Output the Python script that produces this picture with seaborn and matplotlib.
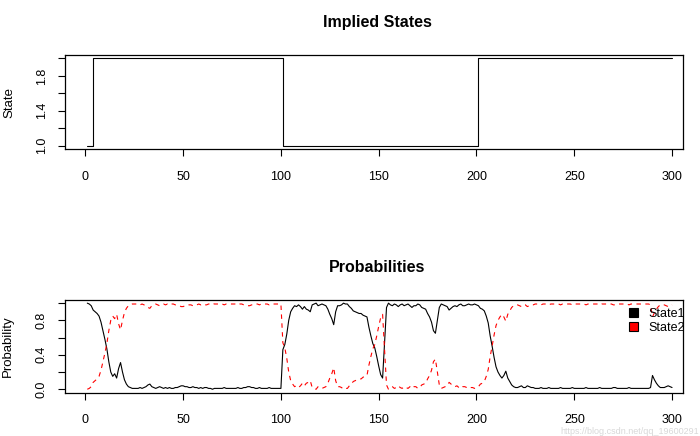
import numpy as np
import pandas as pd
import matplotlib
matplotlib.use("Agg")
import matplotlib.pyplot as plt
from matplotlib.patches import Patch
from matplotlib import font_manager
import seaborn as sns

# ---------------- data ----------------
time_index = list(range(1, 301))

# implied state as run lengths (value, count)
state_levels = [1, 2, 1, 2]
state_runs = [3, 97, 100, 100]

state1_prob = [
    1.00, 0.99, 0.97, 0.92, 0.90, 0.88, 0.85, 0.78, 0.68, 0.58, 0.47, 0.32, 0.20, 0.15, 0.18, 0.13, 0.24, 0.31, 0.20, 0.11, 0.06, 0.03, 0.02, 0.01, 0.01,
    0.01, 0.01, 0.02, 0.01, 0.02, 0.03, 0.05, 0.06, 0.03, 0.02, 0.01, 0.02, 0.03, 0.02, 0.01, 0.02, 0.01, 0.02, 0.01, 0.01, 0.02, 0.02, 0.03, 0.04, 0.04,
    0.03, 0.03, 0.02, 0.02, 0.03, 0.02, 0.02, 0.01, 0.02, 0.01, 0.02, 0.02, 0.01, 0.01, 0.00, 0.01, 0.01, 0.01, 0.01, 0.01, 0.02, 0.01, 0.01, 0.01, 0.01,
    0.01, 0.01, 0.02, 0.01, 0.01, 0.02, 0.02, 0.03, 0.03, 0.02, 0.02, 0.01, 0.01, 0.02, 0.01, 0.01, 0.01, 0.01, 0.02, 0.01, 0.01, 0.01, 0.01, 0.01, 0.01,
    0.46, 0.52, 0.64, 0.80, 0.90, 0.94, 0.97, 0.96, 0.98, 0.96, 0.93, 0.96, 0.93, 0.92, 0.90, 0.98, 0.99, 1.00, 0.97, 0.98, 0.99, 0.98, 0.97, 0.93, 0.87,
    0.82, 0.75, 0.90, 0.97, 0.97, 0.98, 1.00, 0.99, 0.99, 0.96, 0.94, 0.91, 0.90, 0.89, 0.88, 0.88, 0.86, 0.85, 0.84, 0.72, 0.62, 0.53, 0.48, 0.38, 0.27,
    0.17, 0.13, 0.55, 0.95, 1.00, 0.98, 0.97, 0.99, 0.98, 0.96, 0.98, 0.99, 0.97, 0.98, 0.99, 0.97, 0.95, 0.97, 0.97, 0.99, 0.98, 0.95, 0.94, 0.93, 0.88,
    0.84, 0.78, 0.68, 0.65, 0.80, 0.95, 0.99, 0.98, 0.97, 0.96, 0.92, 0.94, 0.96, 0.97, 0.96, 0.98, 0.99, 0.97, 0.97, 0.98, 0.99, 0.98, 0.98, 0.99, 0.98,
    0.97, 0.94, 0.93, 0.91, 0.85, 0.77, 0.62, 0.50, 0.37, 0.26, 0.20, 0.16, 0.13, 0.16, 0.21, 0.13, 0.09, 0.05, 0.03, 0.02, 0.02, 0.03, 0.04, 0.02, 0.02,
    0.04, 0.03, 0.02, 0.02, 0.01, 0.01, 0.01, 0.02, 0.01, 0.01, 0.01, 0.02, 0.01, 0.01, 0.01, 0.01, 0.01, 0.02, 0.01, 0.01, 0.01, 0.01, 0.01, 0.02, 0.01,
    0.01, 0.01, 0.01, 0.01, 0.01, 0.02, 0.01, 0.01, 0.01, 0.01, 0.01, 0.01, 0.02, 0.01, 0.01, 0.01, 0.01, 0.01, 0.01, 0.02, 0.02, 0.01, 0.01, 0.01, 0.01,
    0.01, 0.01, 0.02, 0.01, 0.01, 0.01, 0.01, 0.01, 0.01, 0.01, 0.01, 0.01, 0.01, 0.02, 0.16, 0.11, 0.07, 0.04, 0.02, 0.02, 0.02, 0.03, 0.04, 0.03, 0.02,
]

state2_prob = [
    0.00, 0.01, 0.03, 0.08, 0.10, 0.12, 0.15, 0.22, 0.32, 0.42, 0.53, 0.68, 0.80, 0.85, 0.82, 0.87, 0.76, 0.69, 0.80, 0.89, 0.94, 0.97, 0.98, 0.99, 0.99,
    0.99, 0.99, 0.98, 0.99, 0.98, 0.97, 0.95, 0.94, 0.97, 0.98, 0.99, 0.98, 0.97, 0.98, 0.99, 0.98, 0.99, 0.98, 0.99, 0.99, 0.98, 0.98, 0.97, 0.96, 0.96,
    0.97, 0.97, 0.98, 0.98, 0.97, 0.98, 0.98, 0.99, 0.98, 0.99, 0.98, 0.98, 0.99, 0.99, 1.00, 0.99, 0.99, 0.99, 0.99, 0.99, 0.98, 0.99, 0.99, 0.99, 0.99,
    0.99, 0.99, 0.98, 0.99, 0.99, 0.98, 0.98, 0.97, 0.97, 0.98, 0.98, 0.99, 0.99, 0.98, 0.99, 0.99, 0.99, 0.99, 0.98, 0.99, 0.99, 0.99, 0.99, 0.99, 0.99,
    0.54, 0.48, 0.36, 0.20, 0.10, 0.06, 0.03, 0.04, 0.02, 0.04, 0.07, 0.04, 0.07, 0.08, 0.10, 0.02, 0.01, 0.00, 0.03, 0.02, 0.01, 0.02, 0.03, 0.07, 0.13,
    0.18, 0.25, 0.10, 0.03, 0.03, 0.02, 0.00, 0.01, 0.01, 0.04, 0.06, 0.09, 0.10, 0.11, 0.12, 0.12, 0.14, 0.15, 0.16, 0.28, 0.38, 0.47, 0.52, 0.62, 0.73,
    0.83, 0.87, 0.45, 0.05, 0.00, 0.02, 0.03, 0.01, 0.02, 0.04, 0.02, 0.01, 0.03, 0.02, 0.01, 0.03, 0.05, 0.03, 0.03, 0.01, 0.02, 0.05, 0.06, 0.07, 0.12,
    0.16, 0.22, 0.32, 0.35, 0.20, 0.05, 0.01, 0.02, 0.03, 0.04, 0.08, 0.06, 0.04, 0.03, 0.04, 0.02, 0.01, 0.03, 0.03, 0.02, 0.01, 0.02, 0.02, 0.01, 0.02,
    0.03, 0.06, 0.07, 0.09, 0.15, 0.23, 0.38, 0.50, 0.63, 0.74, 0.80, 0.84, 0.87, 0.84, 0.79, 0.87, 0.91, 0.95, 0.97, 0.98, 0.98, 0.97, 0.96, 0.98, 0.98,
    0.96, 0.97, 0.98, 0.98, 0.99, 0.99, 0.99, 0.98, 0.99, 0.99, 0.99, 0.98, 0.99, 0.99, 0.99, 0.99, 0.99, 0.98, 0.99, 0.99, 0.99, 0.99, 0.99, 0.98, 0.99,
    0.99, 0.99, 0.99, 0.99, 0.99, 0.98, 0.99, 0.99, 0.99, 0.99, 0.99, 0.99, 0.98, 0.99, 0.99, 0.99, 0.99, 0.99, 0.99, 0.98, 0.98, 0.99, 0.99, 0.99, 0.99,
    0.99, 0.99, 0.98, 0.99, 0.99, 0.99, 0.99, 0.99, 0.99, 0.99, 0.99, 0.99, 0.99, 0.98, 0.84, 0.89, 0.93, 0.96, 0.98, 0.98, 0.98, 0.97, 0.96, 0.97, 0.98,
]

x_ticks = [0, 50, 100, 150, 200, 250, 300]
state_ticks = [1.0, 1.2, 1.4, 1.6, 1.8, 2.0]
state_ticklabels = ["1.0", "", "1.4", "", "1.8", ""]
prob_ticks = [0.0, 0.2, 0.4, 0.6, 0.8, 1.0]
prob_ticklabels = ["0.0", "", "0.4", "", "0.8", ""]
legend_labels = ["State1", "State2"]
legend_colors = ["black", "#FF0000"]

# ---------------- style ----------------
sns.set_style("ticks")
avail = {f.name for f in font_manager.fontManager.ttflist}
base_font = "Liberation Sans" if "Liberation Sans" in avail else "DejaVu Sans"
plt.rcParams["font.family"] = [base_font, "DejaVu Sans"]
plt.rcParams["text.color"] = "black"
plt.rcParams["axes.labelcolor"] = "black"
plt.rcParams["xtick.color"] = "black"
plt.rcParams["ytick.color"] = "black"

W, H = 700, 436
fig = plt.figure(figsize=(W / 100, H / 100), dpi=100)
fig.patch.set_facecolor("white")

def fx(px):
    return px / W

def fy(py):
    return 1 - py / H

left, right = 65, 683
ax1 = fig.add_axes([fx(left), fy(149), fx(right - left), (149 - 55) / H])
ax2 = fig.add_axes([fx(left), fy(392.7), fx(right - left), (392.7 - 299.7) / H])

state_series = np.repeat(state_levels, state_runs)
df_state = pd.DataFrame({"t": time_index, "state": state_series})
df_prob = pd.DataFrame({"t": time_index, "s1": state1_prob, "s2": state2_prob})

lw = 0.8
sns.lineplot(data=df_state, x="t", y="state", ax=ax1, color="black",
             linewidth=lw, drawstyle="steps-post", estimator=None, legend=False)

sns.lineplot(data=df_prob, x="t", y="s1", ax=ax2, color=legend_colors[0],
             linewidth=lw, estimator=None, legend=False)
sns.lineplot(data=df_prob, x="t", y="s2", ax=ax2, color=legend_colors[1],
             linewidth=lw, linestyle=(0, (4, 4)), estimator=None, legend=False)

xlim = (-10.4, 305.6)
tick_len = 5.0
for ax in (ax1, ax2):
    ax.set_xlim(*xlim)
    ax.set_xticks(x_ticks)
    ax.set_xticklabels([str(v) for v in x_ticks])
    ax.set_xlabel("")
    for s in ax.spines.values():
        s.set_visible(True)
        s.set_color("black")
        s.set_linewidth(0.9)
    ax.tick_params(axis="both", direction="out", length=tick_len, width=0.8,
                   colors="black", labelsize=9)
    ax.tick_params(axis="y", pad=7.5)
    ax.grid(False)

ax1.tick_params(axis="x", pad=11)
ax2.tick_params(axis="x", pad=10.5)

ax1.set_ylim(0.96, 2.04)
ax1.set_yticks(state_ticks)
ax1.set_yticklabels(state_ticklabels, rotation=90, va="center")
ax2.set_ylim(-0.04, 1.04)
ax2.set_yticks(prob_ticks)
ax2.set_yticklabels(prob_ticklabels, rotation=90, va="center")

ax1.set_ylabel("State", fontsize=9.5, va="center")
ax1.yaxis.set_label_coords((9 - left) / (right - left), 0.5)
ax2.set_ylabel("Probability", fontsize=9.5, va="center")
ax2.yaxis.set_label_coords((8 - left) / (right - left), 0.5)

fig.text(fx(377), fy(22), "Implied States", ha="center", va="center",
         fontsize=11.5, fontweight="bold")
fig.text(fx(377), fy(268), "Probabilities", ha="center", va="center",
         fontsize=11.5, fontweight="bold")

handles = [Patch(facecolor=c, edgecolor="black", linewidth=0.8) for c in legend_colors]
ax2.legend(handles=handles, labels=legend_labels, loc="upper left",
           bbox_to_anchor=(fx(628.5), fy(307.5)), bbox_transform=fig.transFigure,
           frameon=False, fontsize=9, handlelength=0.72, handleheight=0.72,
           handletextpad=0.9, labelspacing=0.2, borderpad=0, borderaxespad=0)

fig.text(fx(699), fy(431.5), "https://blog.csdn.net/qq_19600291", ha="right",
         va="center", fontsize=6.5, color="#d8d8d8")

fig.savefig("out.png", dpi=100, facecolor="white")
